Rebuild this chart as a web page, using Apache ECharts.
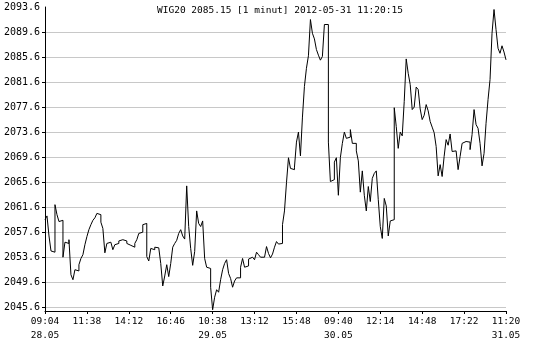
<!DOCTYPE html>
<html>
<head>
<meta charset="utf-8">
<script src="https://cdn.jsdelivr.net/npm/echarts@6/dist/echarts.min.js"></script>
<style>html,body{margin:0;padding:0;background:#fff;}#c{width:544px;height:345px;}</style>
</head>
<body>
<div id="c"></div>
<script>
// Time-axis tick labels (every 154 trading minutes), 21 samples per tick interval
const tickLabels = ['09:04\n28.05','11:38','14:12','16:46','10:38\n29.05','13:12','15:48','09:40\n30.05','12:14','14:48','17:22','11:20\n31.05'];
const samplesPerTick = 21;
const yTicks = [2045.6,2049.6,2053.6,2057.6,2061.6,2065.6,2069.6,2073.6,2077.6,2081.6,2085.6,2089.6];
const yLabels = [2045.6,2049.6,2053.6,2057.6,2061.6,2065.6,2069.6,2073.6,2077.6,2081.6,2085.6,2089.6,2093.6];
const title = 'WIG20 2085.15 [1 minut] 2012-05-31 11:20:15';
const values = [
2059.6,2060.2,2057.0,2054.6,2054.4,2062.0,2060.4,2059.3,2059.5,2053.6,
2056.0,2055.8,2056.4,2050.8,2050.0,2051.6,2051.4,2052.4,2053.4,2054.0,
2055.6,2056.9,2058.0,2058.8,2059.5,2059.9,2060.6,2060.4,2059.2,2058.2,
2054.3,2055.8,2056.0,2056.0,2054.8,2055.6,2055.8,2056.2,2056.4,2056.4,
2056.2,2055.8,2055.5,2055.7,2055.2,2055.8,2056.4,2057.4,2057.6,2058.8,
2059.0,2053.7,2053.0,2055.0,2054.8,2055.2,2055.1,2055.4,2052.6,2049.0,
2050.6,2052.4,2050.5,2052.6,2055.2,2055.8,2056.3,2057.4,2058.0,2057.0,
2056.5,2065.0,2058.5,2055.0,2052.3,2054.5,2061.0,2059.0,2058.5,2059.4,
2053.4,2052.0,2051.8,2048.8,2045.2,2047.2,2048.4,2048.0,2050.0,2051.6,
2052.6,2053.2,2051.0,2050.2,2048.8,2049.8,2050.3,2050.3,2052.0,2053.4,
2052.0,2052.2,2053.3,2053.6,2053.4,2053.2,2054.4,2054.0,2053.6,2053.6,
2053.4,2055.3,2054.2,2053.5,2054.1,2055.2,2056.1,2055.7,2055.8,2058.8,
2061.0,2065.5,2069.5,2067.8,2067.6,2068.0,2072.0,2073.6,2069.8,2076.0,
2080.9,2083.8,2085.8,2091.6,2089.4,2088.5,2086.8,2085.9,2085.1,2085.7,
2090.8,2090.8,2072.0,2065.7,2066.0,2068.8,2069.5,2063.5,2069.5,2071.8,
2073.6,2072.6,2072.8,2074.0,2071.8,2071.8,2070.6,2069.0,2064.0,2067.4,
2063.5,2061.0,2064.9,2062.5,2066.2,2067.0,2067.4,2062.8,2058.5,2056.6,
2063.0,2061.8,2057.0,2059.4,2059.6,2077.5,2074.5,2071.0,2073.6,2073.0,
2078.5,2085.3,2083.0,2081.2,2077.2,2077.6,2080.8,2080.4,2077.3,2075.6,
2076.3,2078.0,2077.0,2075.3,2074.4,2073.5,2071.3,2066.6,2068.4,2066.5,
2069.7,2072.4,2071.5,2073.3,2070.5,2070.6,2070.8,2067.6,2069.7,2071.8,
2072.1,2072.0,2072.0,2070.8,2073.2,2077.2,2074.8,2074.2,2071.8,2068.2,
2070.2,2075.0,2078.8,2082.0,2089.4,2093.2,2090.0,2087.0,2086.2,2087.4,
2086.4,2085.15
];
const data = values.map((v, i) => [i, v]);
const font = 'DejaVu Sans Mono';
const chart = echarts.init(document.getElementById('c'), null, {renderer: 'canvas'});
chart.setOption({
  animation: false,
  backgroundColor: '#fff',
  title: {
    text: title, left: 152, top: 1,
    textStyle: {fontFamily: font, fontSize: 9.5, fontWeight: 'normal', color: '#000'}
  },
  grid: {left: 45, right: 38, top: 7, bottom: 34, containLabel: false},
  xAxis: {
    type: 'value', min: 0, max: (tickLabels.length - 1) * samplesPerTick, interval: samplesPerTick,
    axisLine: {show: true, lineStyle: {color: '#000', width: 1}},
    axisTick: {show: true, length: 3, inside: false, lineStyle: {color: '#000'}},
    splitLine: {show: false},
    axisLabel: {
      fontFamily: font, fontSize: 9.5, color: '#000', margin: 4, lineHeight: 14,
      showMinLabel: true, showMaxLabel: true, hideOverlap: false,
      formatter: v => tickLabels[Math.round(v / samplesPerTick)] || ''
    }
  },
  yAxis: {
    type: 'value', min: 2045.0, max: 2093.6, position: 'left',
    axisLine: {show: true, onZero: false, lineStyle: {color: '#000', width: 1}},
    axisTick: {show: true, length: 3, customValues: yTicks, lineStyle: {color: '#000'}},
    splitLine: {show: true, lineStyle: {color: '#c8c8c8', width: 1}},
    axisLabel: {
      fontFamily: font, fontSize: 10, color: '#000', margin: 5,
      customValues: yLabels, showMinLabel: true, showMaxLabel: true,
      formatter: v => v.toFixed(1)
    }
  },
  series: [{
    type: 'line', data: data, step: 'end', showSymbol: false, symbol: 'none',
    lineStyle: {color: '#000', width: 1}, silent: true
  }]
});
</script>
</body>
</html>
